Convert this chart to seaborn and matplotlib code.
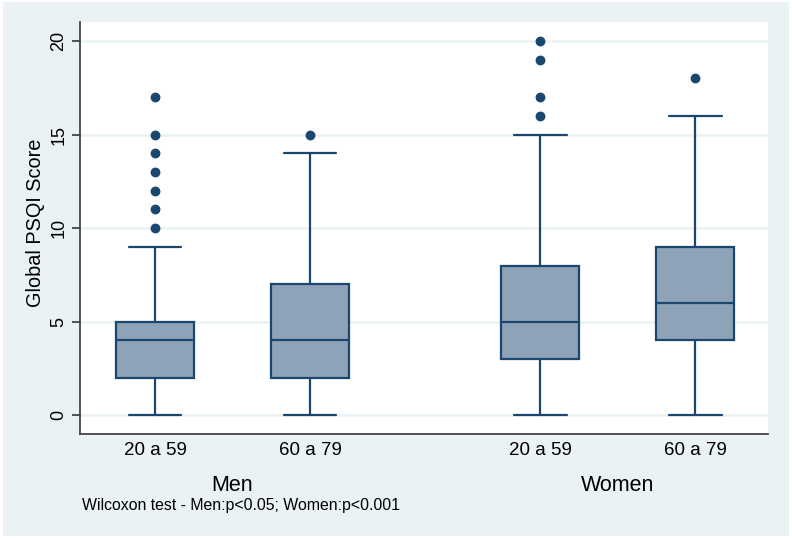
import matplotlib.pyplot as plt
import matplotlib.patches as mpatches
import pandas as pd
import seaborn as sns

# Box summaries (Global PSQI score)
groups = ["Men", "Men", "Women", "Women"]
ages = ["20 a 59", "60 a 79", "20 a 59", "60 a 79"]
whisker_low = [0, 0, 0, 0]
q1 = [2, 2, 3, 4]
median = [4, 4, 5, 6]
q3 = [5, 7, 8, 9]
whisker_high = [9, 14, 15, 16]
outliers = [
    [10, 11, 12, 13, 14, 15, 17],
    [15],
    [16, 17, 19, 20],
    [18],
]
positions = [1, 2, 3.484, 4.484]

NAVY = "#1a476f"
FILL = "#8ea2b8"
BG = "#eaf2f3"

sns.set_theme(style="white")
plt.rcParams["font.family"] = ["Liberation Sans", "DejaVu Sans"]
plt.rcParams["text.color"] = "black"
plt.rcParams["xtick.color"] = "black"
plt.rcParams["ytick.color"] = "black"
plt.rcParams["axes.labelcolor"] = "black"

fig = plt.figure(figsize=(7.92, 5.38), dpi=100, facecolor="white")
fig.patches.append(mpatches.Rectangle((0.004, 0.004), 0.992, 0.992, transform=fig.transFigure,
                                      facecolor=BG, edgecolor="none", zorder=-10))
ax = fig.add_axes([0.101, 0.193, 0.869, 0.766])
ax.set_facecolor("white")

stats = []
for i in range(len(ages)):
    stats.append({
        "whislo": whisker_low[i], "q1": q1[i], "med": median[i],
        "q3": q3[i], "whishi": whisker_high[i], "fliers": [],
    })

ax.bxp(stats, positions=positions, widths=0.5, capwidths=0.34, patch_artist=True,
       showfliers=False, manage_ticks=False,
       boxprops=dict(facecolor=FILL, edgecolor=NAVY, linewidth=1.6),
       medianprops=dict(color=NAVY, linewidth=1.6),
       whiskerprops=dict(color=NAVY, linewidth=1.6),
       capprops=dict(color=NAVY, linewidth=1.6))

fl = pd.DataFrame(
    [(positions[i], v) for i in range(len(outliers)) for v in outliers[i]],
    columns=["pos", "score"],
)
sns.scatterplot(data=fl, x="pos", y="score", ax=ax, color=NAVY, s=50,
                edgecolor=NAVY, linewidth=0, zorder=3)

ax.set_xlim(0.516, 4.955)
ax.set_ylim(-1.016, 21.016)
ax.set_yticks([0, 5, 10, 15, 20])
ax.yaxis.grid(True, color=BG, linewidth=1.8)
ax.set_axisbelow(True)
ax.set_xticks(positions)
ax.set_xticklabels(ages, fontsize=13.5)
ax.tick_params(axis="x", length=0, pad=6)
ax.tick_params(axis="y", length=6, width=1.3, color="#444444", labelcolor="black",
               labelsize=13, labelrotation=90, pad=3, left=True)
for lab in ax.get_yticklabels():
    lab.set_va("center")
ax.set_xlabel("")
ax.set_ylabel("Global PSQI Score", fontsize=14.3)
ax.yaxis.set_label_coords(-0.051, 0.512)

for s in ["top", "right"]:
    ax.spines[s].set_visible(False)
for s in ["left", "bottom"]:
    ax.spines[s].set_color("#444444")
    ax.spines[s].set_linewidth(1.3)

for g, xc in [("Men", (positions[0] + positions[1]) / 2), ("Women", (positions[2] + positions[3]) / 2)]:
    ax.text(xc, -0.124, g, transform=ax.get_xaxis_transform(), ha="center", va="center", fontsize=15.5)

fig.text(0.104, 0.061, "Wilcoxon test - Men:p<0.05; Women:p<0.001", fontsize=11.4,
         ha="left", va="center")

fig.savefig("out.png", dpi=100, facecolor="white")
